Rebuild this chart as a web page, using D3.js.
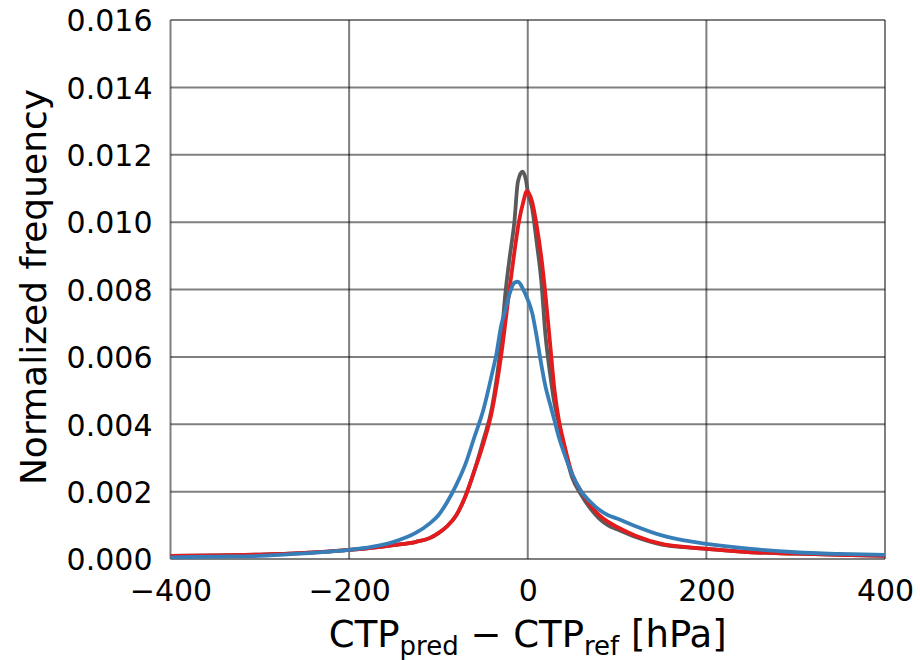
<!DOCTYPE html>
<html><head><meta charset="utf-8">
<script src="https://cdn.jsdelivr.net/npm/d3@7"></script>
<style>body{margin:0;background:#fff}svg{display:block}text{font-family:"DejaVu Sans",sans-serif;fill:#000}</style>
</head><body><svg id="c" width="920" height="660"></svg>
<script>
const xTicks = [-400, -200, 0, 200, 400];
const yTicks = [0, 0.002, 0.004, 0.006, 0.008, 0.010, 0.012, 0.014, 0.016];
const grayX = [-400,-350,-300,-250,-200,-175,-150,-125,-110,-100,-90,-80,-70,-60,-50,-40,-30,-25,-20,-15,-11,-6,-2,0,5,10,15,20,25,30,35,40,50,60,70,80,90,100,120,150,175,200,250,300,350,400];
const grayY = [0.00009,0.00011,0.00013,0.00018,0.00027,0.00033,0.00041,0.00051,0.00062,0.00077,0.00098,0.0013,0.00185,0.0026,0.0035,0.0045,0.0064,0.0079,0.0090,0.0100,0.0112,0.0115,0.01125,0.0109,0.0104,0.0094,0.0083,0.0066,0.0055,0.0046,0.0040,0.0034,0.0024,0.0019,0.0015,0.0012,0.0010,0.00088,0.00066,0.00043,0.00035,0.0003,0.0002,0.00016,0.00012,0.00009];
const redX = [-400,-350,-300,-250,-200,-175,-150,-125,-110,-100,-90,-80,-70,-60,-50,-40,-30,-20,-15,-10,-5,-1,5,10,15,20,25,30,35,40,50,60,70,80,90,100,120,150,175,200,250,300,350,400];
const redY = [0.00009,0.00011,0.00013,0.00018,0.00027,0.00033,0.00041,0.00051,0.00062,0.00077,0.00098,0.0013,0.00185,0.0026,0.0034,0.0044,0.0060,0.0081,0.0091,0.0100,0.0106,0.01092,0.0106,0.0099,0.0090,0.0078,0.0064,0.0050,0.0041,0.0035,0.0025,0.0020,0.0016,0.0013,0.0011,0.00095,0.0007,0.00045,0.00036,0.0003,0.0002,0.00016,0.00012,0.00009];
const blueX = [-400,-350,-300,-250,-200,-175,-150,-125,-110,-100,-90,-80,-70,-60,-50,-40,-35,-30,-25,-20,-15,-11,-5,0,5,10,15,20,25,30,35,40,50,60,70,80,90,100,120,150,175,200,250,300,350,400];
const blueY = [0.00005,0.00007,0.00009,0.00017,0.00027,0.00036,0.00051,0.00078,0.00105,0.0013,0.0017,0.0022,0.0028,0.0036,0.0044,0.0055,0.0061,0.0069,0.0074,0.0079,0.0082,0.00823,0.0080,0.0077,0.0073,0.0066,0.0058,0.0051,0.0046,0.0041,0.0036,0.0032,0.0025,0.0020,0.0017,0.00146,0.0013,0.0012,0.00098,0.0007,0.00055,0.00045,0.0003,0.0002,0.00015,0.00012];

const L=170.5, R=885, T=20, B=559;
const x = d3.scaleLinear().domain([-400,400]).range([L,R]);
const y = d3.scaleLinear().domain([0,0.016]).range([B,T]);
const svg = d3.select("#c");

const grid = svg.append("g");
grid.selectAll("line.h").data(yTicks).join("line")
  .attr("x1",L).attr("x2",R).attr("y1",d=>y(d)).attr("y2",d=>y(d))
  .attr("stroke","#000").attr("stroke-opacity",0.5).attr("stroke-width",2);
grid.selectAll("line.v").data(xTicks).join("line")
  .attr("y1",T).attr("y2",B).attr("x1",d=>x(d)).attr("x2",d=>x(d))
  .attr("stroke","#000").attr("stroke-opacity",0.5).attr("stroke-width",2);

const yAxis = d3.axisLeft(y).tickValues(yTicks).tickFormat(d3.format(".3f")).tickSize(0).tickPadding(18);
const gy = svg.append("g").attr("transform",`translate(${L},0)`).call(yAxis);
gy.select(".domain").remove();
gy.selectAll("text").style("font-size","30px").attr("dy","0.36em");

const xAxis = d3.axisBottom(x).tickValues(xTicks).tickFormat(d=>d<0?"\u2212"+Math.abs(d):d).tickSize(0).tickPadding(20);
const gx = svg.append("g").attr("transform",`translate(0,${B})`).call(xAxis);
gx.select(".domain").remove();
gx.selectAll("text").style("font-size","30px").attr("dy","0.72em");

const line = d3.line().x(d=>x(d[0])).y(d=>y(d[1])).curve(d3.curveMonotoneX);
const series = [[grayX,grayY,"#5a5a5a"],[redX,redY,"#e41a1c"],[blueX,blueY,"#377eb8"]];
series.forEach(([xs,ys,c])=>{
  svg.append("path").datum(xs.map((v,i)=>[v,ys[i]])).attr("d",line)
    .attr("fill","none").attr("stroke",c).attr("stroke-width",3.8).attr("stroke-linejoin","round");
});

svg.append("text").attr("transform","translate(46,287) rotate(-90)").attr("text-anchor","middle")
  .style("font-size","36px").text("Normalized frequency");

const xl = svg.append("text").attr("x",(L+R)/2).attr("y",647).attr("text-anchor","middle").style("font-size","37px");
xl.append("tspan").text("CTP");
xl.append("tspan").attr("dy",8).style("font-size","26px").text("pred");
xl.append("tspan").attr("dy",-8).text(" \u2212 CTP");
xl.append("tspan").attr("dy",8).style("font-size","26px").text("ref");
xl.append("tspan").attr("dy",-8).text(" [hPa]");
</script></body></html>
